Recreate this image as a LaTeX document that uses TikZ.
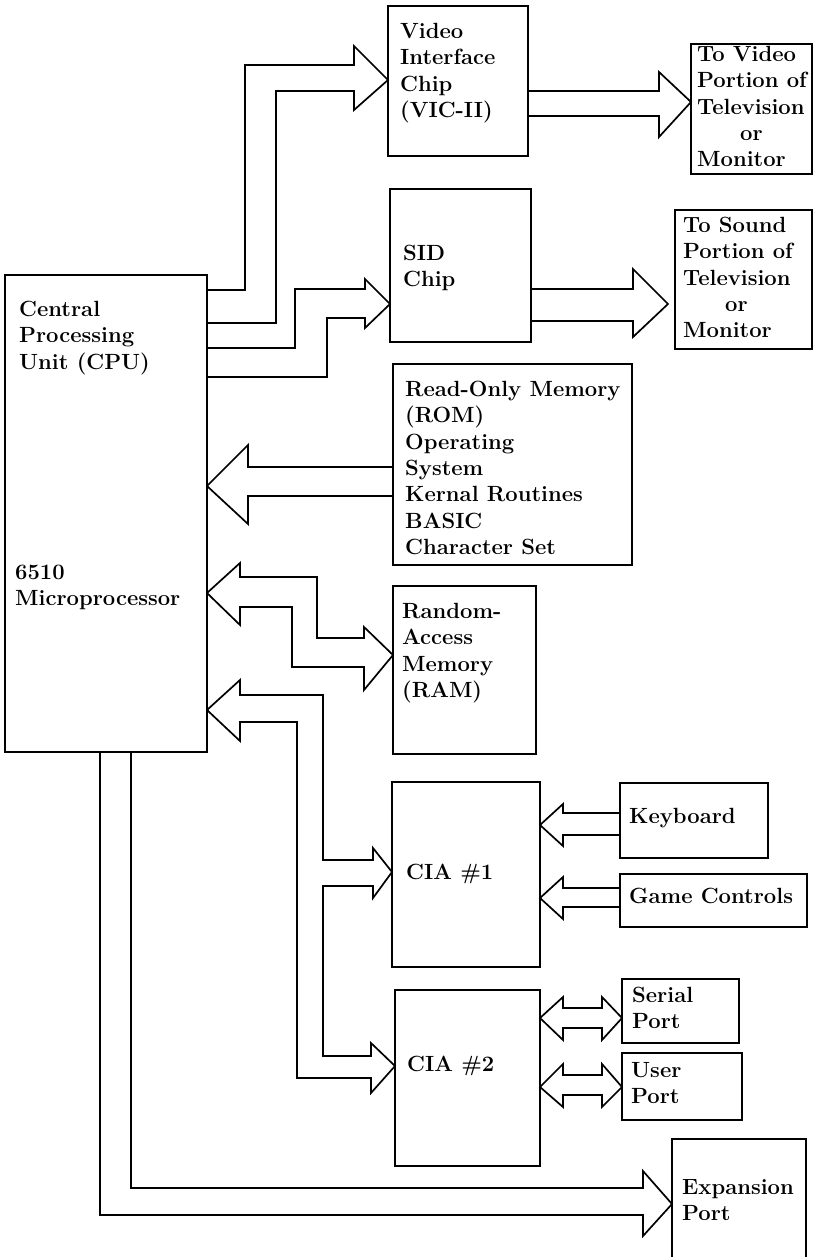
\documentclass[tikz,border=0pt]{standalone}
\usepackage{fontspec}
\tikzset{
 box/.style={draw, line width=1.7pt, inner sep=0pt, outer sep=0pt, anchor=north west},
 txt/.style={anchor=north west, inner sep=0pt, align=left, font=\fontsize{22}{26.3}\selectfont\bfseries},
 bus/.style={draw, line width=1.7pt, line join=miter},
}
\begin{document}
\begin{tikzpicture}[x=1pt,y=-1pt]
\useasboundingbox (0,0) rectangle (813,1257);
% boxes
\node[box, minimum width=202pt, minimum height=477pt] (cpu) at (5,275) {};
\node[box, minimum width=140pt, minimum height=150pt] (vic) at (388,6) {};
\node[box, minimum width=121pt, minimum height=130pt] (tovid) at (691,44) {};
\node[box, minimum width=141pt, minimum height=153pt] (sid) at (390,189) {};
\node[box, minimum width=137pt, minimum height=139pt] (tosnd) at (675,210) {};
\node[box, minimum width=239pt, minimum height=201pt] (rom) at (393,364) {};
\node[box, minimum width=143pt, minimum height=168pt] (ram) at (393,586) {};
\node[box, minimum width=148pt, minimum height=185pt] (cia1) at (392,782) {};
\node[box, minimum width=145pt, minimum height=176pt] (cia2) at (395,990) {};
\node[box, minimum width=148pt, minimum height=75pt] (kbd) at (620,783) {};
\node[box, minimum width=187pt, minimum height=53pt] (game) at (620,874) {};
\node[box, minimum width=117pt, minimum height=64pt] (serial) at (622,979) {};
\node[box, minimum width=120pt, minimum height=67pt] (user) at (622,1053) {};
\node[box, minimum width=134pt, minimum height=130pt] (exp) at (672,1139) {};
% texts
\node[txt] (tcpu) at (19,301) {Central\\Processing\\Unit (CPU)};
\node[txt] (tcpub) at (15,565) {6510\\Microprocessor};
\node[txt] (tvic) at (400,23) {Video\\Interface\\Chip\\(VIC-II)};
\node[txt] (ttv) at (697,46) {To Video\\Portion of\\Television\\\hspace*{43pt}or\\Monitor};
\node[txt] (tsid) at (403,245) {SID\\Chip};
\node[txt] (tts) at (683,217) {To Sound\\Portion of\\Television\\\hspace*{42pt}or\\Monitor};
\node[txt] (trom) at (405,381) {Read-Only Memory\\(ROM)\\Operating\\System\\Kernal Routines\\BASIC\\Character Set};
\node[txt] (tram) at (402,603) {Random-\\Access\\Memory\\(RAM)};
\node[txt] (tc1) at (406,864) {CIA \#1};
\node[txt] (tc2) at (407,1056) {CIA \#2};
\node[txt] (tkb) at (629,808) {Keyboard};
\node[txt] (tgc) at (629,888) {Game Controls};
\node[txt] (tsp) at (632,987) {Serial\\Port};
\node[txt] (tup) at (631,1062) {User\\Port};
\node[txt] (tep) at (682,1179) {Expansion\\Port};
% buses
\draw[bus] (cpu.east|-0,290) -- (245,290) -- (245,65) -- (354,65) -- (354,46) -- (vic.west|-0,80) -- (354,110) -- (354,91) -- (276,91) -- (276,323) -- (cpu.east|-0,323);
\draw[bus] (cpu.east|-0,348) -- (295,348) -- (295,289) -- (365,289) -- (365,279) -- (sid.west|-0,304) -- (365,328) -- (365,318) -- (327,318) -- (327,377) -- (cpu.east|-0,377);
\draw[bus] (vic.east|-0,91) -- (659,91) -- (659,72) -- (tovid.west|-0,102) -- (659,137) -- (659,116) -- (vic.east|-0,116);
\draw[bus] (sid.east|-0,289) -- (633,289) -- (633,269) -- (668,304) -- (633,337) -- (633,321) -- (sid.east|-0,321);
\draw[bus] (rom.west|-0,467) -- (248,467) -- (248,445) -- (cpu.east|-0,486) -- (248,524) -- (248,496) -- (rom.west|-0,496);
\draw[bus] (240,577) -- (317,577) -- (317,638) -- (364,638) -- (364,627) -- (ram.west|-0,655) -- (364,690) -- (364,667) -- (292,667) -- (292,607) -- (240,607) -- (240,625) -- (cpu.east|-0,593) -- (240,563) -- cycle;
\draw[bus] (240,695) -- (323,695) -- (323,860) -- (373,860) -- (373,848) -- (cia1.west|-0,872) -- (373,898) -- (373,886) -- (323,886) -- (323,1056) -- (371,1056) -- (371,1043) -- (cia2.west|-0,1066) -- (371,1093) -- (371,1078) -- (297,1078) -- (297,722) -- (240,722) -- (240,741) -- (cpu.east|-0,710) -- (240,680) -- cycle;
\draw[bus] (kbd.west|-0,813) -- (563,813) -- (563,804) -- (cia1.east|-0,825) -- (563,846) -- (563,835) -- (kbd.west|-0,835);
\draw[bus] (game.west|-0,888) -- (563,888) -- (563,877) -- (cia1.east|-0,898) -- (563,919) -- (563,907) -- (game.west|-0,907);
\draw[bus] (cia2.east|-0,1018) -- (563,997) -- (563,1008) -- (602,1008) -- (602,997) -- (serial.west|-0,1018) -- (602,1040) -- (602,1028) -- (563,1028) -- (563,1040) -- cycle;
\draw[bus] (cia2.east|-0,1087) -- (563,1064) -- (563,1075) -- (602,1075) -- (602,1064) -- (user.west|-0,1087) -- (602,1107) -- (602,1095) -- (563,1095) -- (563,1107) -- cycle;
\draw[bus] (100,0|-cpu.south) -- (100,1215) -- (643,1215) -- (643,1236) -- (exp.west|-0,1204) -- (643,1171) -- (643,1188) -- (131,1188) -- (131,0|-cpu.south);
\end{tikzpicture}
\end{document}
